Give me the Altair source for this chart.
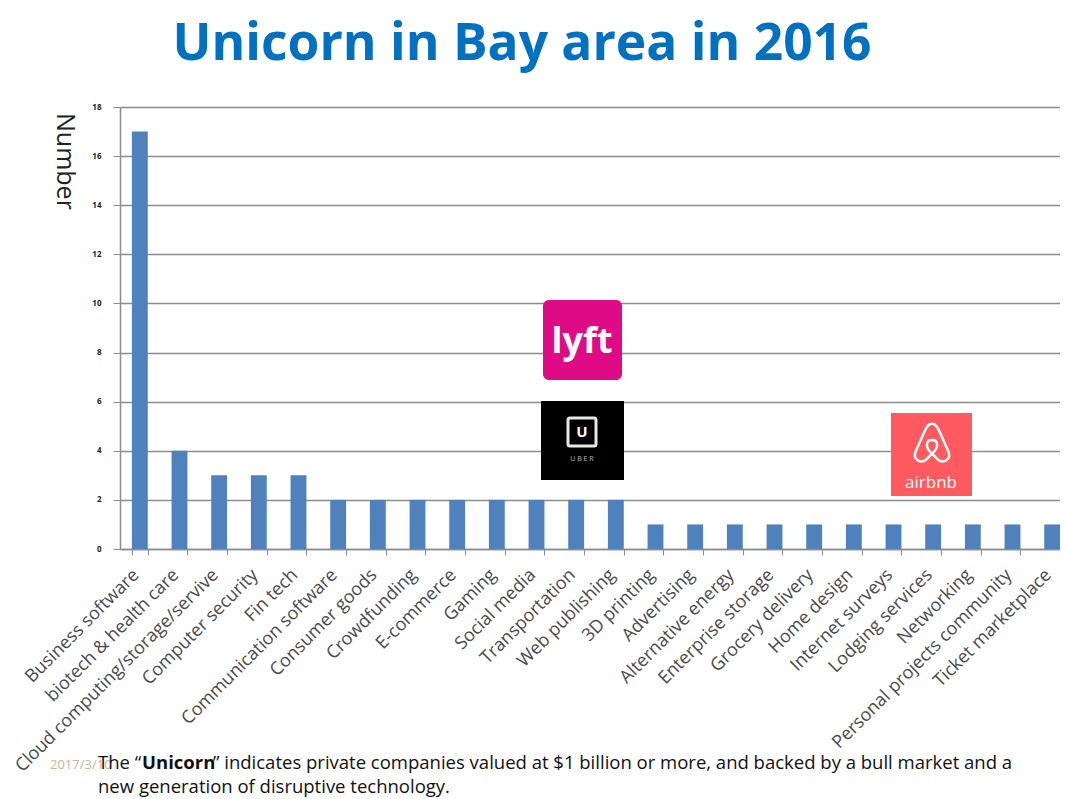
import altair as alt
import pandas as pd

categories = [
    "Business software", "biotech & health care", "Cloud computing/storage/servive",
    "Computer security", "Fin tech", "Communication software", "Consumer goods",
    "Crowdfunding", "E-commerce", "Gaming", "Social media", "Transportation",
    "Web publishing", "3D printing", "Advertising", "Alternative energy",
    "Enterprise storage", "Grocery delivery", "Home design", "Internet surveys",
    "Lodging services", "Networking", "Personal projects community", "Ticket marketplace",
]
counts = [17, 4, 3, 3, 3, 2, 2, 2, 2, 2, 2, 2, 2, 1, 1, 1, 1, 1, 1, 1, 1, 1, 1, 1]
y_ticks = [0, 2, 4, 6, 8, 10, 12, 14, 16, 18]

title_text = "Unicorn in Bay area in 2016"
y_title = "Number"
footer_date = "2017/3/10"
footer_1a = "The \u201c"
footer_1b = "Unicorn"
footer_1c = "\u201d indicates private companies valued at $1 billion or more, and backed by a bull market and a"
footer_2 = "new generation of disruptive technology."

df = pd.DataFrame({"category": categories, "count": counts})

W, H = 940, 442
LEFT, TOP = 112, 99
TOTAL_H = 791
FONT = "Open Sans"
GRID = "#8c8c8c"

bars = alt.Chart(df).mark_bar(color="#4F81BD").encode(
    x=alt.X(
        "category:N", sort=None,
        scale=alt.Scale(paddingInner=0.6, paddingOuter=0.3, range=[0, 952]),
        axis=alt.Axis(
            title=None, labelAngle=-45, labelAlign="right", labelBaseline="middle",
            labelFont=FONT, labelFontSize=18, labelColor="#4a4a4a", labelPadding=17,
            labelOffset=-4,
            tickBand="extent", tickSize=6, tickColor=GRID, domainColor=GRID,
            domainWidth=1.5, labelLimit=500, labelOverlap=False,
        ),
    ),
    y=alt.Y(
        "count:Q",
        scale=alt.Scale(domain=[0, 18], nice=False),
        axis=alt.Axis(
            title=None, values=y_ticks, grid=True, gridColor=GRID, gridWidth=1.3,
            tickSize=7, tickColor=GRID, domainColor=GRID, domainWidth=1.5,
            labelFont=FONT, labelFontSize=8, labelFontWeight="bold",
            labelColor="#222222", labelPadding=12,
        ),
    ),
)


def one(text=""):
    return pd.DataFrame({"t": [text]})


def txt(text, x, y, size, weight="normal", color="#000000", align="left",
        baseline="alphabetic", font=FONT, angle=0):
    return alt.Chart(one(text)).mark_text(
        align=align, baseline=baseline, font=font, fontSize=size,
        fontWeight=weight, color=color, angle=angle,
    ).encode(text="t:N", x=alt.value(x), y=alt.value(y))


def box(x, x2, y, y2, fill, radius=0, stroke=None, sw=0, filled=True):
    kw = dict(cornerRadius=radius)
    if filled:
        kw["fill"] = fill
    else:
        kw["fillOpacity"] = 0
    if stroke:
        kw["stroke"] = stroke
        kw["strokeWidth"] = sw
    return alt.Chart(one()).mark_rect(**kw).encode(
        x=alt.value(x), x2=alt.value(x2), y=alt.value(y), y2=alt.value(y2)
    )


title = txt(title_text, 402, -47, 51.5, weight="bold", color="#0070C0", align="center")
ytitle = txt(y_title, -55, 6, 25, color="#222222", align="left", baseline="middle", angle=90)

# Logos (decorative)
lyft_bg = box(423, 502, 193, 273, "#DE0A86", radius=6)
lyft_t = txt("lyft", 462, 246, 36, weight="bold", color="white", align="center")
uber_bg = box(421, 504, 294, 373, "#000000")
uber_sq = box(448, 476, 311, 339, None, radius=2, stroke="#e8e8e8", sw=3, filled=False)
uber_u = txt("U", 462, 330, 15, weight="bold", color="white", align="center")
uber_t = txt("U  B  E  R", 462, 354, 7, color="#bbbbbb", align="center")
air_bg = box(771, 852, 306, 389, "#FF5A5F")
belo_path = ("M0,-1 C-0.2,-1 -0.3,-0.8 -0.45,-0.45 L-0.85,0.45 C-1,0.85 -0.6,1.1 -0.3,0.85 "
             "L0,0.55 L0.3,0.85 C0.6,1.1 1,0.85 0.85,0.45 L0.45,-0.45 C0.3,-0.8 0.2,-1 0,-1 Z "
             "M0,0.55 C-0.4,0.2 -0.3,-0.15 0,-0.15 C0.3,-0.15 0.4,0.2 0,0.55")
air_belo = alt.Chart(one()).mark_point(
    shape=belo_path, filled=False, stroke="white", strokeWidth=2.5, size=1500, opacity=1
).encode(x=alt.value(812), y=alt.value(336))
air_t = txt("airbnb", 811, 381, 17, color="white", align="center")

# Footer
f_date = txt(footer_date, -70, 662, 13, color="#c8b49a")
f_1a = txt(footer_1a, -22, 662, 18.5, color="#111111")
f_1b = txt(footer_1b, 22, 662, 18.5, weight="bold", color="#111111")
f_1c = txt(footer_1c, 93, 662, 18.5, color="#111111")
f_2 = txt(footer_2, -22, 686, 18.5, color="#111111")

chart = alt.layer(
    bars, title, ytitle,
    lyft_bg, lyft_t, uber_bg, uber_sq, uber_u, uber_t, air_bg, air_belo, air_t,
    f_date, f_1a, f_1b, f_1c, f_2,
).properties(
    width=W, height=H,
    autosize=alt.AutoSizeParams(type="none"),
    padding={"left": LEFT, "top": TOP, "right": 0, "bottom": TOTAL_H - TOP - H},
).configure_view(stroke=None).configure(background="white")

chart.save("out.html", embed_options={"renderer": "svg", "actions": False})
